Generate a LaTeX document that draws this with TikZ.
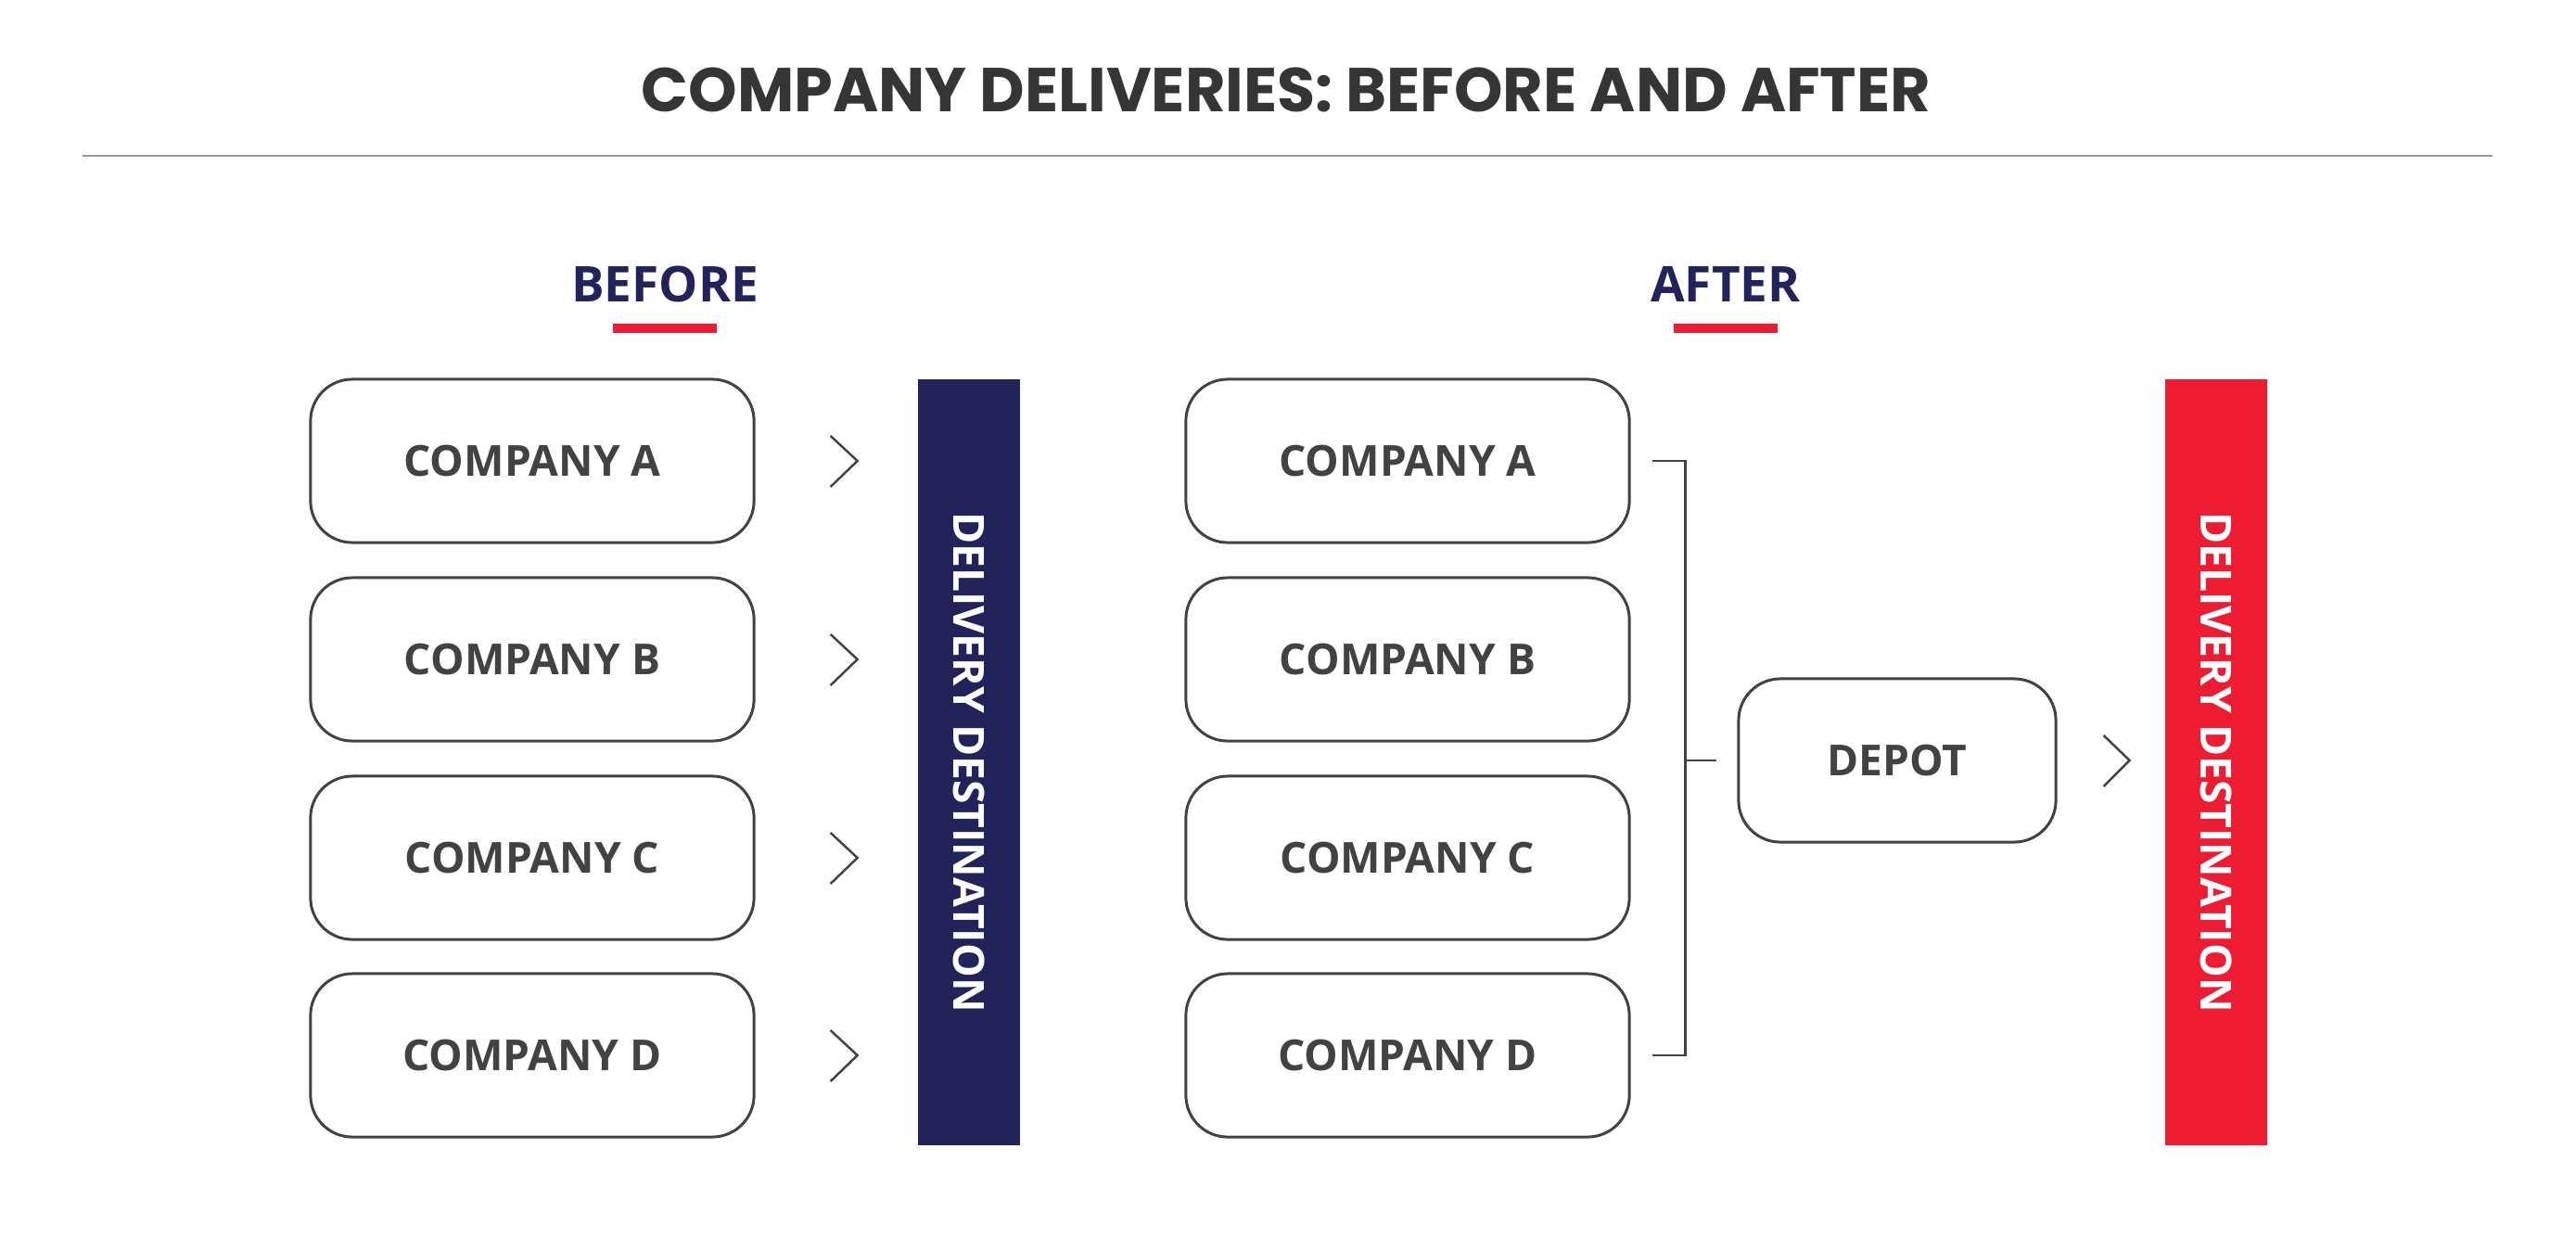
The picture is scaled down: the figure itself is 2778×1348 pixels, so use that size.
\documentclass[tikz,border=0pt]{standalone}
\usepackage{fontspec}
\setmainfont{Open Sans}
\newfontfamily\titlefont{Poppins}
\usepackage{tikz}
\usetikzlibrary{positioning, calc}
\definecolor{navy}{RGB}{34, 35, 90}
\definecolor{accent}{RGB}{237, 28, 51}
\definecolor{ink}{RGB}{66, 66, 66}
\definecolor{rulegray}{RGB}{150, 150, 150}
\tikzstyle{company} = [rectangle, rounded corners=4.5mm, minimum width=47.8mm, minimum height=17.6mm, text centered, draw=ink, line width=0.85pt, text=ink, font=\fontsize{13.1}{15}\selectfont\bfseries]
\tikzstyle{dest} = [rectangle, minimum width=82.6mm, minimum height=11mm, text=white, font=\fontsize{13.15}{15}\selectfont\bfseries, rotate=-90]
\tikzstyle{heading} = [text=navy, font=\fontsize{15.1}{18}\selectfont\bfseries]
\tikzstyle{chev} = [draw=ink, line width=0.7pt]
\tikzstyle{link} = [draw=ink, line width=0.7pt]

\begin{document}
\begin{tikzpicture}[x=0.01cm, y=-0.01cm]
    \useasboundingbox (0,0) rectangle (2778,1348);

    % Title
    \node[text=ink!80!black, font=\titlefont\fontsize{19}{22}\selectfont\bfseries] (title) at (1387, 97) {COMPANY DELIVERIES: BEFORE AND AFTER};
    \draw[rulegray, line width=0.55pt] (89, 168) -- (2688, 168);

    % Headings
    \node[heading] (before) at (717, 306) {BEFORE};
    \node[heading] (after) at (1861, 306) {AFTER};
    \fill[accent] (661, 349) rectangle (773, 359);
    \fill[accent] (1805, 349) rectangle (1917, 359);

    % Before: companies
    \node[company] (a1) at (574, 497) {COMPANY A};
    \node[company] (b1) at (574, 711) {COMPANY B};
    \node[company] (c1) at (574, 925) {COMPANY C};
    \node[company] (d1) at (574, 1138) {COMPANY D};

    % Before: destination
    \node[dest, fill=navy] (dest1) at (1045, 822) {DELIVERY DESTINATION};

    % Before: chevrons
    \draw[chev] ($(a1.east)+(81,-27)$) -- ++(29,27) -- ++(-29,28);
    \draw[chev] ($(b1.east)+(81,-27)$) -- ++(29,27) -- ++(-29,28);
    \draw[chev] ($(c1.east)+(81,-27)$) -- ++(29,27) -- ++(-29,28);
    \draw[chev] ($(d1.east)+(81,-27)$) -- ++(29,27) -- ++(-29,28);

    % After: companies
    \node[company] (a2) at (1518, 497) {COMPANY A};
    \node[company] (b2) at (1518, 711) {COMPANY B};
    \node[company] (c2) at (1518, 925) {COMPANY C};
    \node[company] (d2) at (1518, 1138) {COMPANY D};

    % After: depot
    \node[company, minimum width=34.2mm] (depot) at (2046, 820) {DEPOT};

    % After: destination
    \node[dest, fill=accent] (dest2) at (2390, 822) {DELIVERY DESTINATION};

    % Bracket
    \coordinate (spine) at ($(a2.east)+(59,0)$);
    \coordinate (join) at (spine |- depot.west);
    \draw[link] ($(a2.east)+(23,0)$) -- (spine) |- ($(d2.east)+(23,0)$);
    \draw[link] (join) -- ($(depot.west)+(-22,0)$);

    % After: chevron
    \draw[chev] ($(depot.east)+(50,-27)$) -- ++(28,27) -- ++(-28,28);
\end{tikzpicture}
\end{document}
